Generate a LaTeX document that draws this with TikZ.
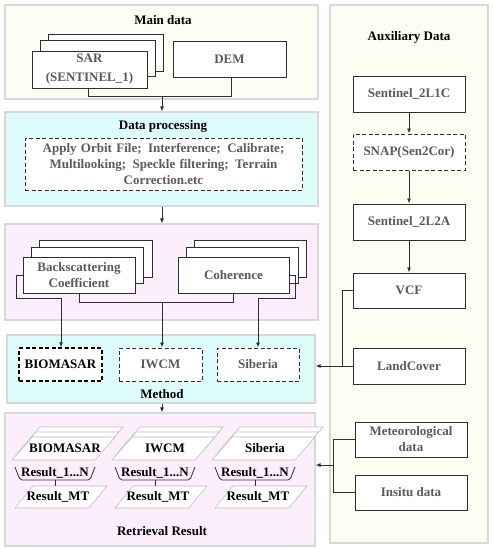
\documentclass[tikz,border=0pt]{standalone}
\usepackage{fontspec}
\setmainfont{Liberation Serif}
\usetikzlibrary{arrows.meta,calc}
\definecolor{cream}{HTML}{FDFDF1}
\definecolor{cyanbg}{HTML}{DDFBFB}
\definecolor{pinkbg}{HTML}{FCEEFC}
\definecolor{panelline}{HTML}{D8D8D8}
\definecolor{txtgray}{HTML}{5A5A5A}
\definecolor{boxline}{HTML}{2E2E2E}
\definecolor{plline}{HTML}{BDBDBD}
\tikzset{
  panel/.style={draw=panelline, line width=1.2pt, inner sep=0pt},
  box/.style={draw=boxline, fill=white, line width=1pt, inner sep=0pt,
    font=\bfseries\fontsize{13}{16}\selectfont, text=txtgray, align=center},
  dbox/.style={box, dash pattern=on 4pt off 2.5pt},
  conn/.style={draw=boxline, line width=0.9pt},
  arr/.style={conn, -{Latex[length=5pt,width=4pt]}},
  ttl/.style={font=\bfseries\fontsize{13}{16}\selectfont, text=black, inner sep=0pt},
  rtxt/.style={font=\bfseries\fontsize{13}{16}\selectfont, text=black, inner sep=0pt},
  stackpar/.pic={\draw[plline, fill=white, line width=0.6pt] (-51.5,11.5) -- (31.5,11.5) -- (51.5,-11.5) -- (-31.5,-11.5) -- cycle;},
  mtpar/.pic={\draw[plline, fill=white, line width=0.6pt] (-46,11) -- (28,11) -- (46,-11) -- (-28,-11) -- cycle;},
}
\begin{document}
\begin{tikzpicture}[x=1pt, y=-1pt]
\useasboundingbox[fill=white] (0,0) rectangle (494,550);
% panels
\node[panel, fill=cream, minimum width=313pt, minimum height=94pt] (pmain) at (161.5,52) {};
\node[panel, fill=cyanbg, minimum width=313pt, minimum height=94pt] (pdp) at (161.5,159) {};
\node[panel, fill=pinkbg, minimum width=313pt, minimum height=96pt] (pfeat) at (161.5,272) {};
\node[panel, fill=cyanbg, minimum width=308pt, minimum height=68pt] (pmeth) at (161,369) {};
\node[panel, fill=pinkbg, minimum width=310pt, minimum height=133pt] (pret) at (160,479.5) {};
\node[panel, fill=cream, minimum width=158pt, minimum height=538pt] (paux) at (409,274) {};
% main data
\node[ttl] (tmain) at (163,20) {Main data};
\node[box, minimum width=115pt, minimum height=37pt] (sar3) at (105.5,52.5) {};
\node[box, minimum width=115pt, minimum height=36pt] (sar2) at (97.5,58) {};
\node[box, minimum width=115pt, minimum height=37pt] (sar) at (89.5,69.5) {SAR\\[3pt](SENTINEL\_1)};
\node[box, minimum width=113pt, minimum height=36pt] (dem) at (229.5,59) {DEM};
\coordinate (mjl) at (88,96);
\coordinate (mjr) at (231,96);
\coordinate (mj) at (162,96);
\draw[conn] (sar.south -| mjl) -- (mjl) -- (mjr) -- (dem.south -| mjr);
\draw[arr] (mj) -- (pdp.north -| mj);
% data processing
\node[ttl] (tdp) at (163,126) {Data processing};
\node[dbox, minimum width=277pt, minimum height=52pt, text width=270pt] (proc) at (163.5,164)
  {Apply Orbit File;\enspace Interference;\enspace Calibrate;\\ Multilooking;\enspace Speckle filtering;\enspace Terrain\\ Correction.etc};
\draw[arr] (pdp.south -| mj) -- (pfeat.north -| mj);
% features
\node[box, minimum width=113pt, minimum height=37pt] (bs3) at (95.5,258.5) {};
\node[box, minimum width=112pt, minimum height=36pt] (bs2) at (87,265) {};
\node[box, minimum width=112pt, minimum height=36pt] (bs) at (79,275) {Backscattering\\Coefficient};
\node[box, minimum width=112pt, minimum height=37pt] (coh3) at (250,258.5) {};
\node[box, minimum width=112pt, minimum height=36pt] (coh2) at (242,265) {};
\node[box, minimum width=111pt, minimum height=36pt] (coh) at (233.5,275) {Coherence};
% method
\node[dbox, draw=black, line width=1.3pt, text=black, minimum width=83pt, minimum height=33pt] (biom) at (60.5,364.5) {BIOMASAR};
\node[dbox, minimum width=83pt, minimum height=33pt] (iwcm) at (160.5,364.5) {IWCM};
\node[dbox, minimum width=82pt, minimum height=33pt] (sib) at (258,364.5) {Siberia};
\node[ttl] (tmeth) at (162,394) {Method};
% feature connectors
\coordinate (fjl) at (79,302);
\coordinate (fjr) at (233,302);
\coordinate (fj) at (162,302);
\draw[conn] (bs.south -| fjl) -- (fjl) -- (fjr) -- (coh.south -| fjr);
\draw[arr] (fj) -- (iwcm.north -| fj);
\coordinate (lb1) at (16,275);
\coordinate (lb2) at (16,298);
\coordinate (lb3) at (61,298);
\draw[arr] (bs.west) -- (lb1) -- (lb2) -- (lb3) -- (biom.north -| lb3);
\coordinate (rb1) at (295,275);
\coordinate (rb2) at (295,298);
\coordinate (rb3) at (258,298);
\draw[arr] (coh.east) -- (rb1) -- (rb2) -- (rb3) -- (sib.north -| rb3);
\draw[arr] (pmeth.south -| mj) -- (pret.north -| mj);
% retrieval
\foreach \i/\lab in {0/BIOMASAR,1/IWCM,2/Siberia}{
  \pgfmathsetmacro{\dx}{100*\i}
  \pic at ({71.5+\dx},438.5) {stackpar};
  \pic at ({67.5+\dx},443.5) {stackpar};
  \pic at ({63.5+\dx},448.5) {stackpar};
  \node[rtxt] (rm\i) at ({65+\dx},448) {\lab};
  \draw[conn, line width=0.8pt, rounded corners=2pt] ({15+\dx},467) -- ({20+\dx},480) -- ({90+\dx},480) -- ({95+\dx},467);
  \coordinate (b\i) at ({55+\dx},480);
  \node[rtxt] (r\i) at ({55+\dx},472.5) {Result\_1...N};
  \pic at ({61+\dx},497) {mtpar};
  \node[rtxt, minimum height=22pt] (mt\i) at ({58+\dx},497) {Result\_MT};
  \draw[conn, line width=0.6pt] (b\i) -- (b\i |- mt\i.north);
}
\node[ttl] (tret) at (162,531) {Retrieval Result};
% auxiliary
\node[ttl] (taux) at (409,37) {Auxiliary Data};
\node[box, minimum width=112pt, minimum height=36pt] (l1c) at (409,94) {Sentinel\_2L1C};
\node[dbox, minimum width=112pt, minimum height=36pt] (snap) at (409,152) {SNAP(Sen2Cor)};
\node[box, minimum width=112pt, minimum height=36pt] (l2a) at (409,222) {Sentinel\_2L2A};
\node[box, minimum width=112pt, minimum height=35pt] (vcf) at (409,290.5) {VCF};
\node[box, minimum width=112pt, minimum height=36pt] (land) at (409,366) {LandCover};
\node[box, minimum width=112pt, minimum height=35pt] (meteo) at (411,439.5) {Meteorological\\data};
\node[box, minimum width=112pt, minimum height=35pt] (insitu) at (411,492.5) {Insitu data};
\draw[arr] (l1c) -- (snap);
\draw[arr] (snap) -- (l2a);
\draw[arr] (l2a) -- (vcf);
\coordinate (vj) at (342,366);
\draw[conn] (vcf.west) -- (vcf.west -| vj) -- (vj);
\draw[arr] (land.west) -- (land.west -| pmeth.east);
\coordinate (mtj) at (333,465);
\draw[conn] (meteo.west) -- (meteo.west -| mtj) -- (insitu.west -| mtj) -- (insitu.west);
\draw[arr] (mtj) -- (mtj -| pret.east);
\end{tikzpicture}
\end{document}
